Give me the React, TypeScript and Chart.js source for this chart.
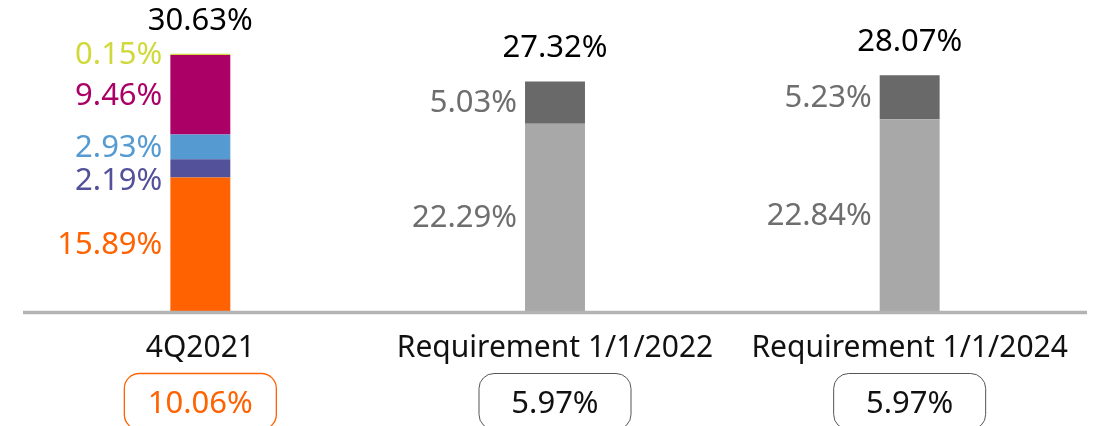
import React, { useEffect, useRef } from "react";
import { Chart, registerables } from "chart.js";

Chart.register(...registerables);

// ---- data ----
const categories = ["4Q2021", "Requirement 1/1/2022", "Requirement 1/1/2024"];
const orangeValues = [15.89, null, null];
const purpleValues = [2.19, null, null];
const blueValues = [2.93, null, null];
const magentaValues = [9.46, null, null];
const yellowValues = [0.15, null, null];
const lightGrayValues = [null, 22.29, 22.84];
const darkGrayValues = [null, 5.03, 5.23];
const totals = [30.63, 27.32, 28.07];
const boxValues = [10.06, 5.97, 5.97];

const FONT = '"Noto Sans", "Open Sans", sans-serif';

const segColors = ["#FF6200", "#525199", "#559BD1", "#AB0066", "#D0D93C", "#A8A8A8", "#696969"];
const segLabelColors = ["#FF6200", "#525199", "#559BD1", "#AB0066", "#D0D93C", "#6E6E6E", "#6E6E6E"];

const fmt = (v: number) => v.toFixed(2) + "%";

const labelPlugin = {
  id: "customLabels",
  afterDatasetsDraw(chart: any) {
    const ctx = chart.ctx;
    const area = chart.chartArea;
    const xScale = chart.scales.x;
    ctx.save();

    // axis line
    ctx.strokeStyle = "#B3B3B3";
    ctx.lineWidth = 3.5;
    ctx.beginPath();
    ctx.moveTo(area.left, area.bottom + 1.5);
    ctx.lineTo(area.right, area.bottom + 1.5);
    ctx.stroke();

    const valFont = `400 31px ${FONT}`;
    const catFont = `400 30px ${FONT}`;

    categories.forEach((cat, i) => {
      ctx.font = valFont;
      ctx.textBaseline = "middle";
      // segment labels
      let prevY = -Infinity;
      const segs: { y: number; text: string; color: string; x: number }[] = [];
      for (let d = chart.data.datasets.length - 1; d >= 0; d--) {
        const ds = chart.data.datasets[d];
        const v = ds.data[i];
        if (v == null) continue;
        const el = chart.getDatasetMeta(d).data[i];
        segs.push({ y: (el.y + el.base) / 2, text: fmt(v), color: segLabelColors[d], x: el.x - el.width / 2 - 8 });
      }
      segs.forEach((s) => {
        let y = s.y;
        if (y < prevY + 33) y = prevY + 33;
        prevY = y;
        ctx.fillStyle = s.color;
        ctx.textAlign = "right";
        ctx.fillText(s.text, s.x, y + 1);
      });

      // total above bar
      const yTop = chart.scales.y.getPixelForValue(totals[i]);
      const cx = xScale.getPixelForValue(i);
      ctx.fillStyle = "#000";
      ctx.textAlign = "center";
      ctx.fillText(fmt(totals[i]), cx, yTop - 33);

      // category label
      ctx.font = catFont;
      ctx.fillStyle = "#111";
      ctx.textBaseline = "alphabetic";
      ctx.fillText(cat, cx, 357);

      // rounded box
      const bw = 152, bh = 56, by = 373.5;
      const bx = cx - bw / 2;
      ctx.beginPath();
      (ctx as any).roundRect(bx, by, bw, bh, 15);
      ctx.lineWidth = i === 0 ? 1.3 : 1;
      ctx.strokeStyle = i === 0 ? "#FF6200" : "#555555";
      ctx.stroke();
      ctx.font = valFont;
      ctx.fillStyle = i === 0 ? "#FF6200" : "#111";
      ctx.fillText(fmt(boxValues[i]), cx, 412.5);
    });

    ctx.restore();
  },
};

export default function App() {
  const ref = useRef<HTMLCanvasElement>(null);
  useEffect(() => {
    if (!ref.current) return;
    const mk = (data: (number | null)[], color: string) => ({
      data,
      backgroundColor: color,
      borderWidth: 0,
      barPercentage: 1,
      categoryPercentage: 0.169,
    });
    const chart = new Chart(ref.current, {
      type: "bar",
      data: {
        labels: categories,
        datasets: [
          mk(orangeValues, segColors[0]),
          mk(purpleValues, segColors[1]),
          mk(blueValues, segColors[2]),
          mk(magentaValues, segColors[3]),
          mk(yellowValues, segColors[4]),
          mk(lightGrayValues, segColors[5]),
          mk(darkGrayValues, segColors[6]),
        ] as any,
      },
      options: {
        animation: false,
        responsive: false,
        devicePixelRatio: 1,
        layout: { padding: { left: 23, right: 9, top: 17, bottom: 115 } },
        plugins: { legend: { display: false }, tooltip: { enabled: false } },
        scales: {
          x: { display: false, stacked: true },
          y: { display: false, stacked: true, min: 0, max: 35 },
        },
      },
      plugins: [labelPlugin],
    });
    return () => chart.destroy();
  }, []);
  return (
    <div style={{ position: "absolute", left: 0, top: 0, width: 1096, height: 426, background: "#fff" }}>
      <canvas ref={ref} width={1096} height={426} style={{ width: 1096, height: 426 }} />
    </div>
  );
}
